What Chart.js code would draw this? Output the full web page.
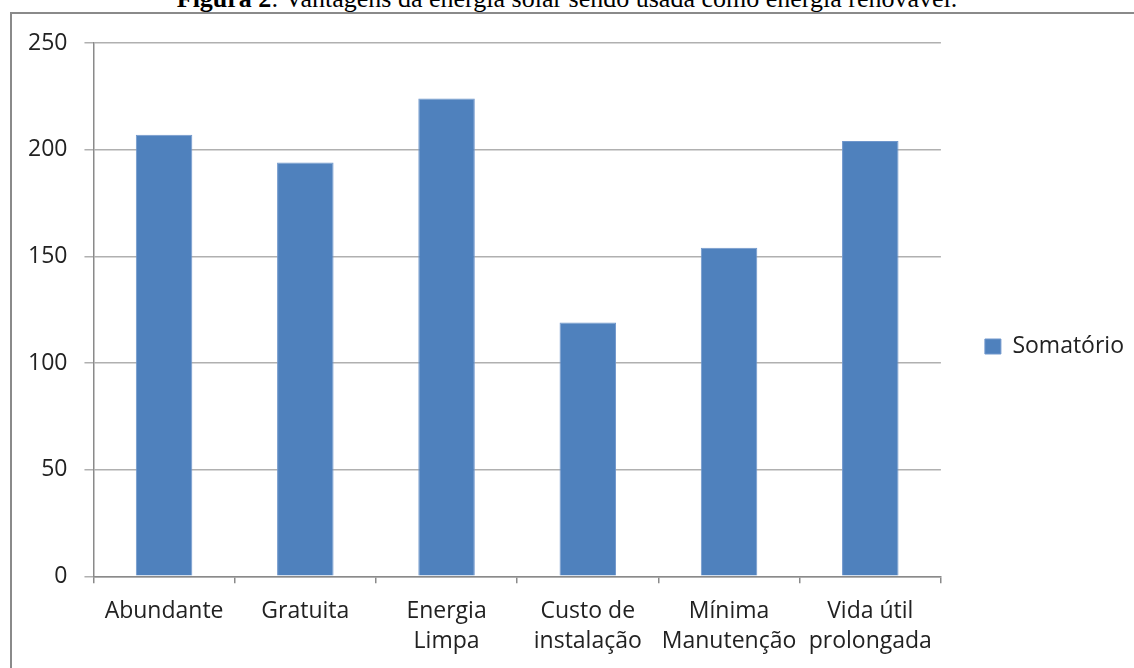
<!DOCTYPE html>
<html>
<head>
<meta charset="utf-8">
<script src="https://cdn.jsdelivr.net/npm/chart.js@4.4.0/dist/chart.umd.min.js"></script>
<style>
  html, body { margin: 0; padding: 0; background: #ffffff; overflow: hidden; }
  #page { position: relative; width: 1134px; height: 668px; overflow: hidden; }
  #caption {
    position: absolute; left: 0; width: 1134px; top: -14px;
    text-align: center; font-family: "Liberation Serif", "Times New Roman", serif;
    font-size: 26px; line-height: 26px; color: #000; white-space: nowrap;
  }
  #frame {
    position: absolute; left: 10px; top: 12px; width: 1140px; height: 700px;
    border: 2px solid #8a8a8a; box-sizing: border-box;
  }
  #wrap { position: absolute; left: 0; top: 0; width: 1134px; height: 668px; }
</style>
</head>
<body>
<div id="page">
  <div id="caption"><b>Figura 2</b>: Vantagens da energia solar sendo usada como energia renovável.</div>
  <div id="frame"></div>
  <div id="wrap"><canvas id="chart" width="1134" height="668"></canvas></div>
</div>
<script>
// Categories (multi-line labels) and the summed scores per advantage
const categories = [
  ["Abundante"],
  ["Gratuita"],
  ["Energia", "Limpa"],
  ["Custo de", "instalação"],
  ["Mínima", "Manutenção"],
  ["Vida útil", "prolongada"]
];
const somatorio = [207, 194, 224, 119, 154, 204];
const seriesName = "Somatório";
const yTicks = [0, 50, 100, 150, 200, 250];

const FONT = { family: "'Open Sans', sans-serif", size: 23 };
const TEXT = "#222222";

// Lift the legend a little above the vertical middle of its column
const legendLift = {
  id: "legendLift",
  afterLayout(chart) {
    if (chart.legend) {
      chart.legend.top -= 10;
      chart.legend.bottom -= 10;
    }
  }
};

new Chart(document.getElementById("chart"), {
  type: "bar",
  data: {
    labels: categories,
    datasets: [{
      label: seriesName,
      data: somatorio,
      backgroundColor: "#4f81bd",
      borderColor: "#7097cc",
      borderWidth: 1,
      categoryPercentage: 1.0,
      barPercentage: 0.4
    }]
  },
  plugins: [legendLift],
  options: {
    responsive: false,
    animation: false,
    devicePixelRatio: 1,
    layout: { padding: { left: 11, top: 43, right: 0, bottom: -2 } },
    plugins: {
      title: { display: false },
      tooltip: { enabled: false },
      legend: {
        position: "right",
        align: "center",
        labels: {
          font: FONT,
          color: TEXT,
          boxWidth: 16,
          boxHeight: 15,
          padding: 44
        }
      }
    },
    scales: {
      x: {
        offset: true,
        border: { display: true, color: "#8a8a8a", width: 1.5 },
        grid: {
          display: true, offset: true, drawOnChartArea: false,
          drawTicks: true, tickLength: 7, color: "#8a8a8a", lineWidth: 1.5
        },
        ticks: {
          font: { family: FONT.family, size: FONT.size, lineHeight: 1.32 },
          color: TEXT, padding: 13, maxRotation: 0, autoSkip: false
        }
      },
      y: {
        min: 0, max: 250,
        afterBuildTicks: (axis) => { axis.ticks = yTicks.map(v => ({ value: v })); },
        border: { display: true, color: "#8a8a8a", width: 1.5 },
        grid: {
          color: "#b0b0b0", lineWidth: 1.5, drawTicks: true, tickLength: 9
        },
        ticks: { font: FONT, color: TEXT, padding: 17 }
      }
    }
  }
});
</script>
</body>
</html>
